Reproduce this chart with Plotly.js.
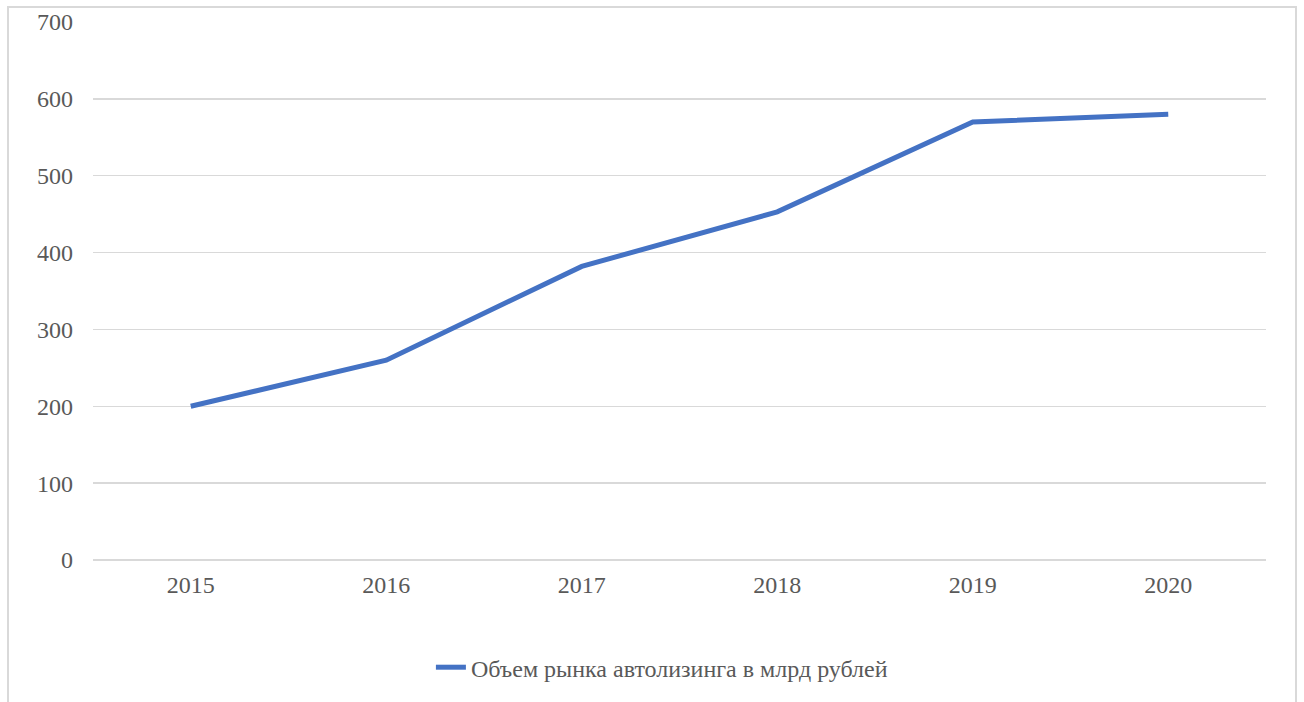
<!DOCTYPE html>
<html>
<head>
<meta charset="utf-8">
<script src="https://cdn.plot.ly/plotly-3.0.1.min.js"></script>
<style>
  html, body { margin: 0; padding: 0; background: #fff; }
  #wrap { position: relative; width: 1304px; height: 702px; overflow: hidden; }
  #chart { position: absolute; left: 0; top: 0; width: 1304px; height: 702px; }
  #frame { position: absolute; left: 7px; top: 6px; width: 1290px; height: 720px;
           border: 2px solid #d9d9d9; box-sizing: border-box; pointer-events: none; }
</style>
</head>
<body>
<div id="wrap">
  <div id="chart"></div>
  <div id="frame"></div>
</div>
<script>
const years = ['2015', '2016', '2017', '2018', '2019', '2020'];
const marketVolume = [200, 260, 382, 453, 570, 580];
const seriesName = 'Объем рынка автолизинга в млрд рублей';
const yTicks = [0, 100, 200, 300, 400, 500, 600, 700];

const font = { family: '"Liberation Serif", "Times New Roman", serif', size: 24, color: '#595959' };

Plotly.newPlot('chart', [{
  x: years,
  y: marketVolume,
  type: 'scatter',
  mode: 'lines',
  name: seriesName,
  line: { color: '#4472C4', width: 5 }
}], {
  width: 1304,
  height: 702,
  margin: { l: 93, r: 38, t: 22, b: 140 },
  paper_bgcolor: 'rgba(0,0,0,0)',
  plot_bgcolor: 'rgba(0,0,0,0)',
  font: font,
  showlegend: true,
  legend: {
    orientation: 'h',
    x: 0.485, xanchor: 'center',
    y: -0.2, yanchor: 'middle',
    font: font
  },
  xaxis: {
    type: 'category',
    range: [-0.5, 5.5],
    showgrid: false,
    showline: false,
    zeroline: false,
    ticks: '',
    ticklabelstandoff: 8,
    tickfont: font
  },
  yaxis: {
    range: [0, 700],
    tickvals: yTicks,
    ticktext: yTicks.map(String),
    showgrid: true,
    gridcolor: '#d9d9d9',
    gridwidth: 1.5,
    zeroline: true,
    zerolinecolor: '#d9d9d9',
    zerolinewidth: 1.5,
    showline: false,
    ticks: '',
    ticklabelstandoff: 19,
    tickfont: font
  }
}, { staticPlot: true });
</script>
</body>
</html>
